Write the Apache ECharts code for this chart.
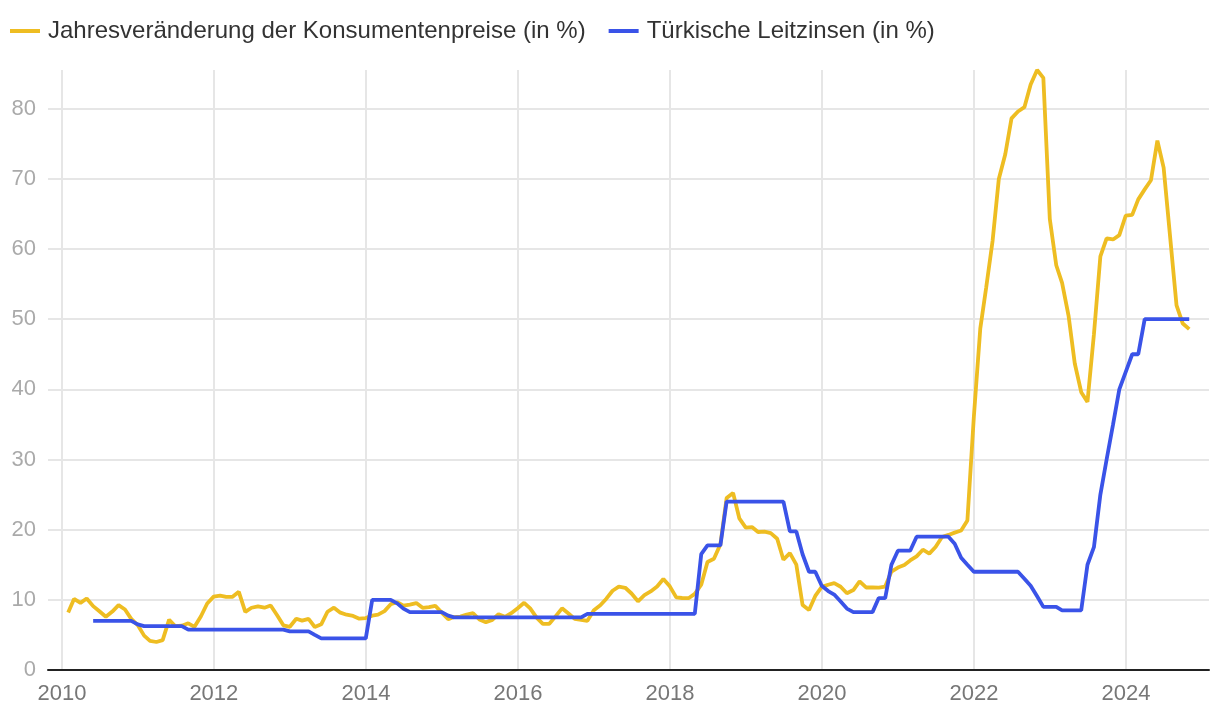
<!DOCTYPE html>
<html>
<head>
<meta charset="utf-8">
<script src="https://cdn.jsdelivr.net/npm/echarts@6/dist/echarts.min.js"></script>
<style>
html,body{margin:0;padding:0;background:#fff;}
#chart{width:1220px;height:716px;}
</style>
</head>
<body>
<div id="chart"></div>
<script>
// Monthly series, first month Jan 2010 (CPI) / May 2010 (rate), last Oct 2024
var cpiStart = [2010, 0];
var cpi = [
  8.19,10.13,9.56,10.19,9.10,8.37,7.58,8.33,9.24,8.62,7.29,6.40,
  4.90,4.16,3.99,4.26,7.17,6.24,6.31,6.65,6.15,7.66,9.48,10.45,
  10.61,10.43,10.43,11.14,8.28,8.87,9.07,8.88,9.19,7.80,6.37,6.16,
  7.31,7.03,7.29,6.13,6.51,8.30,8.88,8.17,7.88,7.71,7.32,7.40,
  7.75,7.89,8.39,9.38,9.66,9.16,9.32,9.54,8.86,8.96,9.15,8.17,
  7.24,7.55,7.61,7.91,8.09,7.20,6.81,7.14,7.95,7.58,8.10,8.81,
  9.58,8.78,7.46,6.57,6.58,7.64,8.79,8.05,7.28,7.16,7.00,8.53,
  9.22,10.13,11.29,11.87,11.72,10.90,9.79,10.68,11.20,11.90,12.98,11.92,
  10.35,10.26,10.23,10.85,12.15,15.39,15.85,17.90,24.52,25.24,21.62,20.30,
  20.35,19.67,19.71,19.50,18.71,15.72,16.65,15.01,9.26,8.55,10.56,11.84,
  12.15,12.37,11.86,10.94,11.39,12.62,11.76,11.77,11.75,11.89,14.03,14.60,
  14.97,15.61,16.19,17.14,16.59,17.53,18.95,19.25,19.58,19.89,21.31,36.08,
  48.69,54.44,61.14,69.97,73.50,78.62,79.60,80.21,83.45,85.51,84.39,64.27,
  57.68,55.18,50.51,43.68,39.59,38.21,47.83,58.94,61.53,61.36,61.98,64.77,
  64.86,67.07,68.50,69.80,75.45,71.60,61.78,51.97,49.38,48.58
];
var rateStart = [2010, 4];
var rate = [
  7,7,7,7,7,7,7,6.5,
  6.25,6.25,6.25,6.25,6.25,6.25,6.25,5.75,5.75,5.75,5.75,5.75,
  5.75,5.75,5.75,5.75,5.75,5.75,5.75,5.75,5.75,5.75,5.75,5.5,
  5.5,5.5,5.5,5,4.5,4.5,4.5,4.5,4.5,4.5,4.5,4.5,
  10,10,10,10,9.5,8.75,8.25,8.25,8.25,8.25,8.25,8.25,
  7.75,7.5,7.5,7.5,7.5,7.5,7.5,7.5,7.5,7.5,7.5,7.5,
  7.5,7.5,7.5,7.5,7.5,7.5,7.5,7.5,7.5,7.5,8,8,
  8,8,8,8,8,8,8,8,8,8,8,8,
  8,8,8,8,16.5,17.75,17.75,17.75,24,24,24,24,
  24,24,24,24,24,24,19.75,19.75,16.5,14,14,12,
  11.25,10.75,9.75,8.75,8.25,8.25,8.25,8.25,10.25,10.25,15,17,
  17,17,19,19,19,19,19,19,18,16,15,14,
  14,14,14,14,14,14,14,13,12,10.5,9,9,
  9,8.5,8.5,8.5,8.5,15,17.5,25,30,35,40,42.5,
  45,45,50,50,50,50,50,50,50,50
];
var yearTicks = [2010, 2012, 2014, 2016, 2018, 2020, 2022, 2024];
var seriesNames = ['Jahresveränderung der Konsumentenpreise (in %)', 'Türkische Leitzinsen (in %)'];

function monthEnd(start, i) {
  return Date.UTC(start[0], start[1] + i + 1, 0);
}
function toPairs(start, vals) {
  return vals.map(function (v, i) { return [monthEnd(start, i), v]; });
}
var tickTimes = yearTicks.map(function (y) { return Date.UTC(y, 0, 1); });

var chart = echarts.init(document.getElementById('chart'), null, {renderer: 'canvas'});
chart.setOption({
  animation: false,
  textStyle: {fontFamily: '"Liberation Sans", Arial, sans-serif'},
  legend: {
    left: 5, top: 14,
    itemWidth: 30, itemHeight: 4, itemGap: 23,
    icon: 'rect',
    textStyle: {fontSize: 24, color: '#333', padding: [0, 0, 0, 3]},
    data: seriesNames
  },
  grid: {left: 48, right: 11, top: 70, bottom: 46, containLabel: false},
  xAxis: {
    type: 'value',
    min: Date.UTC(2009, 9, 26),
    max: Date.UTC(2025, 1, 3),
    axisLine: {show: true, lineStyle: {color: '#222', width: 2}},
    axisTick: {show: false, customValues: tickTimes},
    axisLabel: {
      customValues: tickTimes,
      fontSize: 22, color: '#777', margin: 13,
      formatter: function (v) { return String(new Date(v).getUTCFullYear()); }
    },
    splitLine: {show: true, lineStyle: {color: '#e6e6e6', width: 2}}
  },
  yAxis: {
    type: 'value',
    min: 0, max: 'dataMax', interval: 10,
    axisLine: {show: false},
    axisTick: {show: false},
    axisLabel: {fontSize: 22, color: '#aaa', margin: 12, showMaxLabel: false},
    splitLine: {show: true, showMaxLine: false, lineStyle: {color: '#e6e6e6', width: 2}}
  },
  series: [
    {
      name: seriesNames[0], type: 'line', data: toPairs(cpiStart, cpi),
      symbol: 'none', color: '#EEBD22',
      lineStyle: {width: 3.8, color: '#EEBD22'}, z: 3
    },
    {
      name: seriesNames[1], type: 'line', data: toPairs(rateStart, rate),
      symbol: 'none', color: '#3A53E8',
      lineStyle: {width: 3.8, color: '#3A53E8'}, z: 4
    }
  ]
});
</script>
</body>
</html>
